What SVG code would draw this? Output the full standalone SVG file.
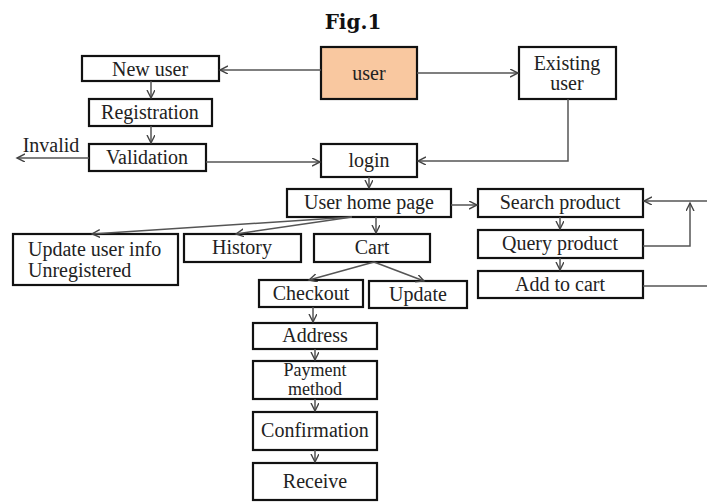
<svg xmlns="http://www.w3.org/2000/svg" width="707" height="502" viewBox="0 0 707 502">
<style>
.box{fill:#fff;stroke:#111;stroke-width:2.2}
.t{font-family:"Liberation Serif","Times New Roman",serif;font-size:20px;fill:#222;text-anchor:middle}
.s{font-size:18px}
.c{fill:none;stroke:#555;stroke-width:1.5;marker-end:url(#ar)}
.n{fill:none;stroke:#555;stroke-width:1.5}
</style>
<defs>
<marker id="ar" markerWidth="10" markerHeight="10" refX="8" refY="4" orient="auto" markerUnits="userSpaceOnUse">
<path d="M0,0 L8,4 L0,8" fill="none" stroke="#444" stroke-width="1.4"/>
</marker>
</defs>
<rect width="707" height="502" fill="#fff"/>
<text x="353" y="29" font-family="'DejaVu Serif',serif" font-weight="bold" font-size="20" text-anchor="middle" fill="#111">Fig.1</text>

<g id="user"><rect class="box" x="321" y="47" width="96" height="52" fill="#f9c8a0" style="fill:#f9c8a0"/><text class="t" x="369" y="80">user</text></g>
<g id="existing"><rect class="box" x="519" y="47" width="97" height="52"/><text class="t" x="567" y="70">Existing</text><text class="t" x="567" y="90">user</text></g>
<g id="newuser"><rect class="box" x="82" y="56" width="137" height="25"/><text class="t" x="150" y="76">New user</text></g>
<g id="registration"><rect class="box" x="89" y="99" width="123" height="27"/><text class="t" x="150" y="119">Registration</text></g>
<g id="validation"><rect class="box" x="89" y="144" width="117" height="27"/><text class="t" x="147" y="164">Validation</text></g>
<g id="invalid"><text class="t" x="51" y="152">Invalid</text></g>
<g id="login"><rect class="box" x="321" y="144" width="96" height="33"/><text class="t" x="369" y="167">login</text></g>
<g id="home"><rect class="box" x="287" y="189" width="164" height="28"/><text class="t" x="369" y="209">User home page</text></g>
<g id="search"><rect class="box" x="478" y="189" width="165" height="28"/><text class="t" x="560" y="209">Search product</text></g>
<g id="query"><rect class="box" x="478" y="230" width="165" height="28"/><text class="t" x="560" y="250">Query product</text></g>
<g id="addcart"><rect class="box" x="478" y="271" width="165" height="27"/><text class="t" x="560" y="291">Add to cart</text></g>
<g id="updateinfo"><rect class="box" x="13" y="234" width="165" height="51"/><text class="t" x="28" y="256" style="text-anchor:start">Update user info</text><text class="t" x="28" y="277" style="text-anchor:start">Unregistered</text></g>
<g id="history"><rect class="box" x="184" y="234" width="117" height="28"/><text class="t" x="242" y="254">History</text></g>
<g id="cart"><rect class="box" x="314" y="234" width="116" height="28"/><text class="t" x="372" y="254">Cart</text></g>
<g id="checkout"><rect class="box" x="259" y="280" width="104" height="27"/><text class="t" x="311" y="300">Checkout</text></g>
<g id="update"><rect class="box" x="369" y="281" width="98" height="27"/><text class="t" x="418" y="301">Update</text></g>
<g id="address"><rect class="box" x="253" y="323" width="124" height="26"/><text class="t" x="315" y="342">Address</text></g>
<g id="payment"><rect class="box" x="253" y="361" width="124" height="38"/><text class="t s" x="315" y="376">Payment</text><text class="t s" x="315" y="395">method</text></g>
<g id="confirmation"><rect class="box" x="253" y="412" width="124" height="38"/><text class="t" x="315" y="437">Confirmation</text></g>
<g id="receive"><rect class="box" x="253" y="463" width="124" height="37"/><text class="t" x="315" y="488">Receive</text></g>

<g id="connectors">
<path class="c" d="M321,70 L220,70"/>
<path class="c" d="M417,73 L518,73"/>
<path class="c" d="M151,81 L151,98"/>
<path class="c" d="M151,126 L151,143"/>
<path class="c" d="M89,158 L17,158"/>
<path class="c" d="M206,162 L320,162"/>
<path class="c" d="M568,99 L568,161 L418,161"/>
<path class="c" d="M369,177 L369,188"/>
<path class="c" d="M451,205 L477,205"/>
<path class="c" d="M352,217 L92,234"/>
<path class="c" d="M352,217 L236,234"/>
<path class="c" d="M376,217 L376,233"/>
<path class="c" d="M374,262 L309,280"/>
<path class="c" d="M374,262 L424,281"/>
<path class="c" d="M313,307 L313,322"/>
<path class="c" d="M315,349 L315,360"/>
<path class="c" d="M315,399 L315,411"/>
<path class="c" d="M315,450 L315,462"/>
<path class="c" d="M560,217 L560,229"/>
<path class="c" d="M560,258 L560,270"/>
<path class="c" d="M643,246 L690,246 L690,203"/>
<path class="n" d="M643,286 L707,286"/>
<path class="c" d="M707,201 L644,201"/>
</g>
</svg>
